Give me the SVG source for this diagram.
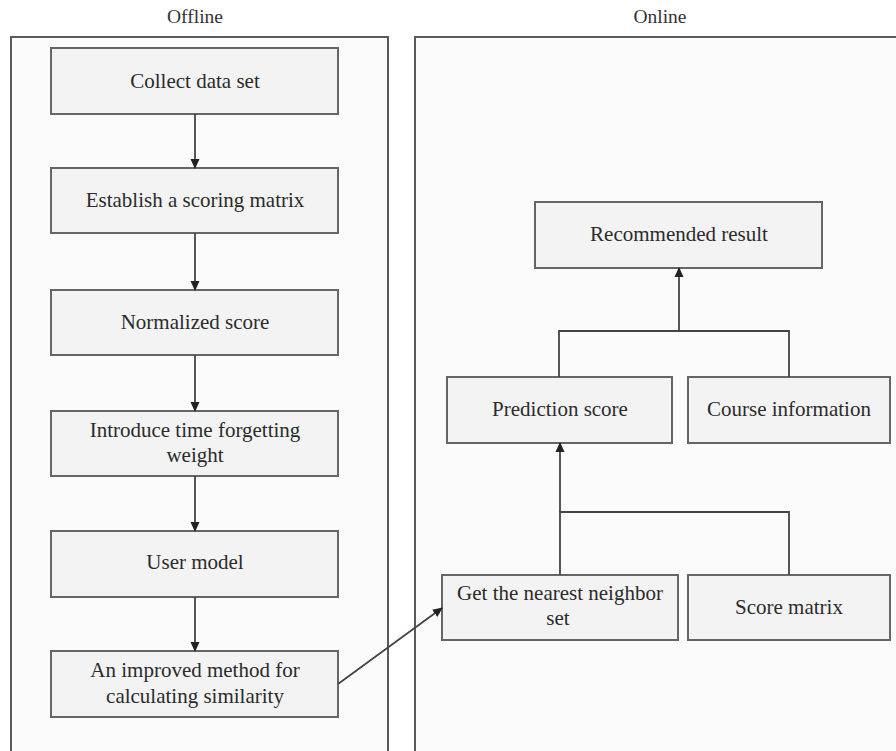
<svg xmlns="http://www.w3.org/2000/svg" width="896" height="751" viewBox="0 0 896 751">
<defs>
<marker id="ah" markerWidth="10" markerHeight="10" refX="9" refY="5" orient="auto" markerUnits="userSpaceOnUse">
<path d="M0,0.5 L10,5 L0,9.5 Z" fill="#222"/>
</marker>
</defs>
<style>
.cont{fill:#fbfbfb;stroke:#5a5a5a;stroke-width:2}
.box{fill:#f3f3f3;stroke:#666;stroke-width:2}
.t{font-family:"Liberation Serif",serif;font-size:21px;fill:#2b2b2b;text-anchor:middle}
.title{font-family:"Liberation Serif",serif;font-size:19.5px;fill:#333;text-anchor:middle}
.c{fill:none;stroke:#444;stroke-width:1.8}
</style>
<rect width="896" height="751" fill="#ffffff"/>
<g id="offline">
<rect class="cont" x="11" y="37" width="377" height="730"/>
<text class="title" x="195" y="23">Offline</text>
</g>
<g id="online">
<rect class="cont" x="415" y="37" width="500" height="730"/>
<text class="title" x="660" y="23">Online</text>
</g>
<g id="n1"><rect class="box" x="51" y="48" width="287" height="66"/><text class="t" x="195" y="88">Collect data set</text></g>
<g id="n2"><rect class="box" x="51" y="168" width="287" height="65"/><text class="t" x="195" y="207">Establish a scoring matrix</text></g>
<g id="n3"><rect class="box" x="51" y="290" width="287" height="65"/><text class="t" x="195" y="329">Normalized score</text></g>
<g id="n4"><rect class="box" x="51" y="411" width="287" height="65"/><text class="t" x="195" y="437">Introduce time forgetting</text><text class="t" x="195" y="462">weight</text></g>
<g id="n5"><rect class="box" x="51" y="531" width="287" height="66"/><text class="t" x="195" y="569">User model</text></g>
<g id="n6"><rect class="box" x="51" y="651" width="287" height="66"/><text class="t" x="195" y="677">An improved method for</text><text class="t" x="195" y="703">calculating similarity</text></g>
<g id="r1"><rect class="box" x="535" y="202" width="287" height="66"/><text class="t" x="679" y="241">Recommended result</text></g>
<g id="r2"><rect class="box" x="447" y="377" width="225" height="66"/><text class="t" x="560" y="416">Prediction score</text></g>
<g id="r3"><rect class="box" x="688" y="377" width="202" height="66"/><text class="t" x="789" y="416">Course information</text></g>
<g id="r4"><rect class="box" x="442" y="575" width="236" height="65"/><text class="t" x="560" y="600">Get the nearest neighbor</text><text class="t" x="558" y="625">set</text></g>
<g id="r5"><rect class="box" x="688" y="575" width="202" height="65"/><text class="t" x="789" y="614">Score matrix</text></g>
<g id="connectors">
<line class="c" x1="195" y1="114" x2="195" y2="168" marker-end="url(#ah)"/>
<line class="c" x1="195" y1="233" x2="195" y2="290" marker-end="url(#ah)"/>
<line class="c" x1="195" y1="355" x2="195" y2="411" marker-end="url(#ah)"/>
<line class="c" x1="195" y1="476" x2="195" y2="531" marker-end="url(#ah)"/>
<line class="c" x1="195" y1="597" x2="195" y2="651" marker-end="url(#ah)"/>
<line class="c" x1="338" y1="684" x2="442" y2="608" marker-end="url(#ah)"/>
<polyline class="c" points="559,377 559,331 789,331 789,377"/>
<line class="c" x1="679" y1="331" x2="679" y2="268" marker-end="url(#ah)"/>
<polyline class="c" points="560,575 560,512 789,512 789,575"/>
<line class="c" x1="560" y1="512" x2="560" y2="443" marker-end="url(#ah)"/>
</g>
</svg>
